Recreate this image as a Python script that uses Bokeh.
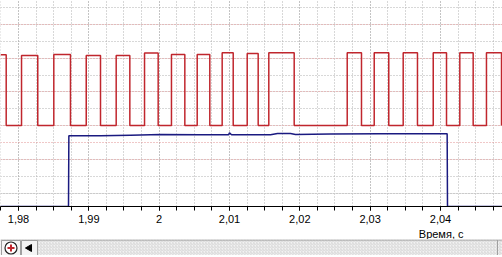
import numpy as np
from bokeh.plotting import figure
from bokeh.models import Range1d, FixedTicker, Grid, CustomJSTickFormatter, Title
from bokeh.layouts import column
from bokeh.embed import file_html
from bokeh.resources import INLINE

# ---------------- data ----------------
# time window (s)
x_start, x_end = 1.97744, 2.04882
major_ticks = [1.98, 1.99, 2.00, 2.01, 2.02, 2.03, 2.04]
minor_ticks = [round(v, 4) for v in np.arange(1.9775, 2.0480, 0.0025)]

# vertical scale in grid divisions
y_lo, y_hi = -0.77, 11.41
gray_levels = [0, 1, 5, 7, 9, 11]
red_levels = [2, 3, 4, 6, 8, 10]

# red channel: pulse rise / fall times and top levels
red_rise = [x_start, 1.98043, 1.98502, 1.98963, 1.99389, 1.99792, 2.00175, 2.00541,
            2.00896, 2.01252, 2.01559, 2.02674, 2.03058, 2.03470, 2.03897, 2.04275, 2.04654]
red_fall = [1.97825, 1.98274, 1.98739, 1.99166, 1.99583, 1.99986, 2.00365, 2.00720,
            2.01053, 2.01408, 2.01920, 2.02877, 2.03265, 2.03673, 2.04086, 2.04465, 2.04868]
red_top = [8.20, 8.16, 8.22, 8.16, 8.16, 8.30, 8.22, 8.22,
           8.32, 8.27, 8.32, 8.32, 8.32, 8.32, 8.32, 8.32, 8.32]
red_low = 4.02

# blue channel
blue_t = [x_start, 1.98711, 1.98716, 1.99166, 1.99593, 2.00019, 2.00588, 2.00986, 2.01000,
          2.01029, 2.01583, 2.01683, 2.01868, 2.01939, 2.02436, 2.03147, 2.03716, 2.04095,
          2.04100, x_end]
blue_v = [-0.77, -0.77, 3.42, 3.42, 3.45, 3.48, 3.47, 3.47, 3.58,
          3.47, 3.47, 3.54, 3.54, 3.49, 3.52, 3.53, 3.53, 3.53,
          -0.77, -0.77]

# build red step trace
red_x, red_y = [], []
for i, (r, f, v) in enumerate(zip(red_rise, red_fall, red_top)):
    if i == 0:
        red_x += [r, f, f]
        red_y += [v, v, red_low]
    else:
        red_x += [r, r, f, f]
        red_y += [red_low, v, v, red_low]

# ---------------- main plot ----------------
p = figure(frame_width=502, frame_height=206, x_range=Range1d(x_start, x_end),
           y_range=Range1d(y_lo, y_hi), toolbar_location=None, output_backend="svg",
           y_axis_location=None, min_border_left=0, min_border_right=0,
           min_border_top=0, min_border_bottom=0)
p.outline_line_color = None
p.background_fill_color = "white"
p.border_fill_color = "white"

ax = p.xaxis[0]
ax.ticker = FixedTicker(ticks=major_ticks, minor_ticks=minor_ticks)
ax.formatter = CustomJSTickFormatter(code="""
let s = tick.toFixed(2);
s = s.replace(/0+$/, '').replace(/\\.$/, '');
return s.replace('.', ',');
""")
ax.axis_line_color = "black"
ax.major_tick_line_color = "black"
ax.minor_tick_line_color = "black"
ax.major_tick_out = 4
ax.major_tick_in = 0
ax.minor_tick_out = 4
ax.minor_tick_in = 0
ax.major_label_standoff = 4
ax.major_label_text_font = "Liberation Sans"
ax.major_label_text_font_size = "11px"
ax.major_label_text_color = "black"

p.xgrid.grid_line_color = "#b0b0b0"
p.xgrid.grid_line_dash = "1 2"
p.xgrid.minor_grid_line_color = "#b0b0b0"
p.xgrid.minor_grid_line_dash = "1 2"

p.add_layout(Grid(dimension=1, ticker=FixedTicker(ticks=gray_levels),
                  grid_line_color="#b0b0b0", grid_line_dash="1 2"))
p.add_layout(Grid(dimension=1, ticker=FixedTicker(ticks=red_levels),
                  grid_line_color="#e09090", grid_line_dash="1 2"))

p.line(red_x, red_y, line_color="#c0262d", line_width=1.5)
p.line(blue_t, blue_v, line_color="#1a1a80", line_width=1.5)

p.add_layout(Title(text="Время, с", align="right", offset=39, standoff=0,
                   text_font="Liberation Sans", text_font_size="11px",
                   text_font_style="normal", text_color="black"), "below")

# ---------------- bottom strip ----------------
s = figure(width=502, height=16, x_range=Range1d(0, 502), y_range=Range1d(0, 16),
           toolbar_location=None, output_backend="svg", x_axis_location=None,
           y_axis_location=None, min_border=0)
s.outline_line_color = None
s.grid.visible = False
s.background_fill_color = "#efefef"
s.quad(left=[0], right=[502], bottom=[0], top=[16], fill_color="#f2f2f2",
       hatch_pattern="right_diagonal_line", hatch_color="#d8d8d8", hatch_scale=3,
       line_color=None)
s.line([0, 502], [15.5, 15.5], line_color="#9a9a9a", line_width=1)
s.quad(left=[1, 21], right=[20, 37], bottom=[0, 0], top=[15, 15],
       fill_color="#f4f4f4", line_color="#a0a0a0")
s.scatter([10.5], [7.5], size=12, marker="circle", fill_color="white",
          line_color="#222222", line_width=1.2)
s.scatter([10.5], [7.5], size=7, marker="cross", line_color="#c0262d", line_width=2)
s.scatter([29], [7.5], size=7, marker="triangle", angle=np.pi / 2,
          fill_color="black", line_color="black")
s.line([497, 497], [0, 15.5], line_color="#a0a0a0")

layout = column(p, s, spacing=0)
open("out.html", "w").write(file_html(layout, INLINE))
